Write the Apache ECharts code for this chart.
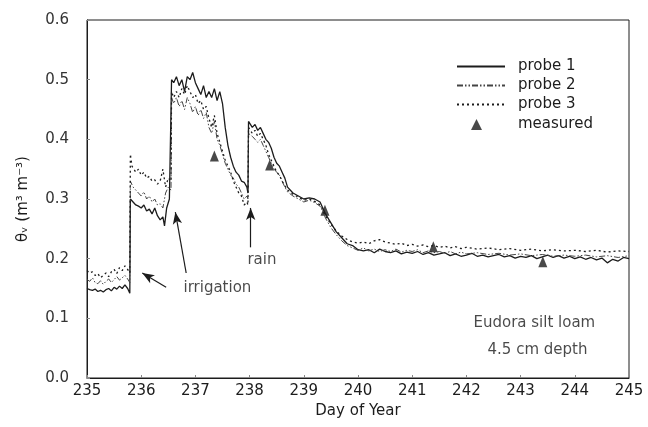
<!DOCTYPE html>
<html>
<head>
<meta charset="utf-8">
<script src="https://cdn.jsdelivr.net/npm/echarts@6/dist/echarts.min.js"></script>
<style>
  html, body { margin: 0; padding: 0; background: #fff; }
  #chart { width: 648px; height: 427px; }
</style>
</head>
<body>
<div id="chart"></div>
<script>
// [day, theta_v]
const probe1 = [
  [235.00,0.150],[235.05,0.148],[235.10,0.147],[235.15,0.149],[235.20,0.145],[235.25,0.147],
  [235.30,0.144],[235.35,0.148],[235.40,0.150],[235.45,0.146],[235.50,0.152],[235.55,0.149],
  [235.60,0.154],[235.65,0.150],[235.70,0.156],[235.75,0.150],[235.79,0.142],
  [235.80,0.300],[235.85,0.295],[235.90,0.290],[235.95,0.288],[236.00,0.285],[236.05,0.290],
  [236.10,0.280],[236.15,0.283],[236.20,0.275],[236.25,0.285],[236.30,0.272],[236.35,0.265],
  [236.40,0.270],[236.43,0.255],[236.47,0.285],[236.52,0.300],[236.55,0.298],
  [236.56,0.500],[236.60,0.495],[236.65,0.505],[236.70,0.490],[236.75,0.500],[236.80,0.480],
  [236.85,0.505],[236.90,0.500],[236.95,0.512],[237.00,0.495],[237.05,0.485],[237.10,0.475],
  [237.15,0.490],[237.20,0.470],[237.25,0.480],[237.30,0.470],[237.35,0.485],[237.40,0.465],
  [237.45,0.480],[237.50,0.460],[237.55,0.420],[237.60,0.390],[237.65,0.370],[237.70,0.355],
  [237.75,0.345],[237.80,0.340],[237.85,0.330],[237.90,0.328],[237.95,0.320],[237.97,0.310],
  [237.98,0.430],[238.05,0.420],[238.10,0.425],[238.15,0.415],[238.20,0.420],[238.25,0.410],
  [238.30,0.400],[238.35,0.395],[238.40,0.385],[238.45,0.370],[238.50,0.360],[238.55,0.355],
  [238.60,0.345],[238.65,0.335],[238.70,0.320],[238.80,0.310],[238.90,0.305],[239.00,0.300],
  [239.10,0.302],[239.20,0.300],[239.30,0.295],[239.35,0.285],[239.40,0.275],[239.50,0.260],
  [239.60,0.245],[239.70,0.235],[239.80,0.225],[239.90,0.222],[240.00,0.215],[240.10,0.213],
  [240.20,0.215],[240.30,0.210],[240.40,0.216],[240.50,0.212],[240.60,0.210],[240.70,0.213],
  [240.80,0.208],[240.90,0.211],[241.00,0.209],[241.10,0.212],[241.20,0.207],[241.30,0.210],
  [241.40,0.206],[241.50,0.208],[241.60,0.210],[241.70,0.205],[241.80,0.208],[241.90,0.204],
  [242.00,0.206],[242.10,0.209],[242.20,0.204],[242.30,0.206],[242.40,0.203],[242.50,0.205],
  [242.60,0.207],[242.70,0.203],[242.80,0.205],[242.90,0.201],[243.00,0.204],[243.10,0.202],
  [243.20,0.205],[243.30,0.200],[243.40,0.203],[243.50,0.206],[243.60,0.202],[243.70,0.205],
  [243.80,0.201],[243.90,0.204],[244.00,0.200],[244.10,0.203],[244.20,0.199],[244.30,0.202],
  [244.40,0.198],[244.50,0.201],[244.60,0.193],[244.70,0.199],[244.80,0.196],[244.90,0.202],
  [245.00,0.200]
];
const probe2 = [
  [235.00,0.165],[235.05,0.162],[235.10,0.168],[235.15,0.160],[235.20,0.158],[235.25,0.163],
  [235.30,0.157],[235.35,0.162],[235.40,0.166],[235.45,0.160],[235.50,0.165],[235.55,0.170],
  [235.60,0.164],[235.65,0.168],[235.70,0.172],[235.75,0.166],[235.79,0.160],
  [235.80,0.330],[235.85,0.320],[235.90,0.315],[235.95,0.310],[236.00,0.305],[236.05,0.312],
  [236.10,0.300],[236.15,0.305],[236.20,0.295],[236.25,0.300],[236.30,0.290],[236.35,0.292],
  [236.40,0.285],[236.45,0.310],[236.50,0.320],[236.55,0.315],
  [236.56,0.470],[236.60,0.460],[236.65,0.470],[236.70,0.455],[236.75,0.465],[236.80,0.450],
  [236.85,0.470],[236.90,0.460],[236.95,0.445],[237.00,0.455],[237.05,0.440],[237.10,0.450],
  [237.15,0.435],[237.20,0.445],[237.25,0.420],[237.30,0.410],[237.35,0.430],[237.40,0.400],
  [237.45,0.390],[237.50,0.375],[237.55,0.360],[237.60,0.350],[237.65,0.340],[237.70,0.335],
  [237.75,0.325],[237.80,0.320],[237.85,0.310],[237.90,0.300],[237.95,0.305],[237.97,0.300],
  [237.98,0.410],[238.05,0.405],[238.10,0.400],[238.15,0.395],[238.20,0.400],[238.25,0.390],
  [238.30,0.380],[238.35,0.370],[238.40,0.360],[238.45,0.350],[238.50,0.345],[238.55,0.340],
  [238.60,0.330],[238.65,0.320],[238.70,0.312],[238.80,0.305],[238.90,0.300],[239.00,0.295],
  [239.10,0.298],[239.20,0.294],[239.30,0.288],[239.35,0.280],[239.40,0.268],[239.50,0.252],
  [239.60,0.240],[239.70,0.230],[239.80,0.222],[239.90,0.218],[240.00,0.214],[240.10,0.218],
  [240.20,0.213],[240.30,0.216],[240.40,0.212],[240.50,0.215],[240.60,0.212],[240.70,0.216],
  [240.80,0.211],[240.90,0.214],[241.00,0.212],[241.10,0.215],[241.20,0.210],[241.30,0.213],
  [241.40,0.210],[241.50,0.212],[241.60,0.209],[241.70,0.212],[241.80,0.208],[241.90,0.211],
  [242.00,0.208],[242.20,0.210],[242.40,0.207],[242.60,0.209],[242.80,0.206],[243.00,0.208],
  [243.20,0.205],[243.40,0.207],[243.60,0.204],[243.80,0.206],[244.00,0.204],[244.20,0.206],
  [244.40,0.203],[244.60,0.205],[244.80,0.202],[245.00,0.205]
];
const probe3 = [
  [235.00,0.180],[235.05,0.176],[235.10,0.178],[235.15,0.172],[235.20,0.175],[235.25,0.168],
  [235.30,0.172],[235.35,0.176],[235.40,0.170],[235.45,0.178],[235.50,0.182],[235.55,0.175],
  [235.60,0.185],[235.65,0.180],[235.70,0.188],[235.75,0.182],[235.79,0.176],
  [235.80,0.375],[235.83,0.355],[235.90,0.345],[235.95,0.350],[236.00,0.340],[236.05,0.345],
  [236.10,0.335],[236.15,0.338],[236.20,0.330],[236.25,0.332],[236.30,0.325],[236.35,0.330],
  [236.40,0.350],[236.45,0.320],[236.50,0.335],[236.55,0.330],
  [236.56,0.480],[236.60,0.470],[236.65,0.480],[236.70,0.470],[236.75,0.485],[236.80,0.475],
  [236.85,0.490],[236.90,0.480],[236.95,0.470],[237.00,0.475],[237.05,0.460],[237.10,0.465],
  [237.15,0.450],[237.20,0.455],[237.25,0.435],[237.30,0.420],[237.35,0.440],[237.40,0.410],
  [237.45,0.395],[237.50,0.380],[237.55,0.365],[237.60,0.355],[237.65,0.345],[237.70,0.330],
  [237.75,0.320],[237.80,0.310],[237.85,0.305],[237.90,0.290],[237.95,0.295],[237.97,0.290],
  [237.98,0.420],[238.05,0.410],[238.10,0.415],[238.15,0.405],[238.20,0.410],[238.25,0.400],
  [238.30,0.390],[238.35,0.375],[238.40,0.365],[238.45,0.355],[238.50,0.345],[238.55,0.340],
  [238.60,0.330],[238.65,0.322],[238.70,0.315],[238.80,0.308],[238.90,0.303],[239.00,0.298],
  [239.10,0.300],[239.20,0.296],[239.30,0.290],[239.35,0.282],[239.40,0.272],[239.50,0.258],
  [239.60,0.246],[239.70,0.238],[239.80,0.232],[239.90,0.228],[240.00,0.226],[240.10,0.228],
  [240.20,0.225],[240.30,0.230],[240.40,0.232],[240.50,0.228],[240.60,0.226],[240.70,0.224],
  [240.80,0.226],[240.90,0.222],[241.00,0.224],[241.10,0.221],[241.20,0.223],[241.30,0.220],
  [241.40,0.222],[241.50,0.219],[241.60,0.221],[241.70,0.218],[241.80,0.220],[241.90,0.217],
  [242.00,0.219],[242.20,0.216],[242.40,0.218],[242.60,0.215],[242.80,0.217],[243.00,0.214],
  [243.20,0.216],[243.40,0.213],[243.60,0.215],[243.80,0.213],[244.00,0.214],[244.20,0.212],
  [244.40,0.214],[244.60,0.211],[244.80,0.213],[245.00,0.212]
];
const measuredDays = [237.35, 238.37, 239.39, 241.39, 243.41];
const measuredVals = [0.372, 0.357, 0.281, 0.220, 0.195];

// annotation anchors in data units
const arrows = [
  [[236.46, 0.152], [236.02, 0.176]],
  [[236.83, 0.176], [236.63, 0.278]],
  [[238.02, 0.219], [238.02, 0.285]]
];
const notes = [
  ['irrigation', 236.78, 0.150],
  ['rain', 237.96, 0.198],
  ['Eudora silt loam', 242.13, 0.092],
  ['4.5 cm depth', 242.39, 0.047]
];

const ink = '#1c1c1c';
const font = 'DejaVu Sans';
const legendText = { fontFamily: font, fontSize: 15, color: ink, padding: [0, 0, 0, 8] };
const noDot = { opacity: 0 };

const chart = echarts.init(document.getElementById('chart'));

chart.setOption({
  backgroundColor: '#fff',
  animation: false,
  grid: { left: 87, right: 19, top: 20, bottom: 49, show: true, borderColor: ink, borderWidth: 1 },
  legend: [
    {
      orient: 'vertical',
      left: 451, top: 54,
      itemWidth: 48, itemHeight: 14, itemGap: 4,
      textStyle: legendText,
      data: [
        { name: 'probe 1', itemStyle: noDot },
        { name: 'probe 2', itemStyle: noDot },
        { name: 'probe 3', itemStyle: noDot }
      ]
    },
    {
      orient: 'vertical',
      left: 466, top: 112,
      itemWidth: 11, itemHeight: 11,
      textStyle: Object.assign({}, legendText, { padding: [0, 0, 0, 31] }),
      data: [{ name: 'measured', icon: 'triangle' }]
    }
  ],
  xAxis: {
    type: 'value', min: 235, max: 245, interval: 1,
    name: 'Day of Year', nameLocation: 'middle', nameGap: 24,
    nameTextStyle: { fontFamily: font, fontSize: 15, color: ink },
    axisLine: { lineStyle: { color: ink } },
    axisTick: { show: true, inside: true, length: 3, lineStyle: { color: '#888' } },
    axisLabel: { fontFamily: font, fontSize: 15, color: ink, margin: 6 },
    splitLine: { show: false }
  },
  yAxis: {
    type: 'value', min: 0, max: 0.6, interval: 0.1,
    name: 'θᵥ (m³ m⁻³)', nameLocation: 'middle', nameGap: 56, nameRotate: 90,
    nameTextStyle: { fontFamily: font, fontSize: 15, color: ink },
    axisLine: { lineStyle: { color: ink } },
    axisTick: { show: true, inside: true, length: 3, lineStyle: { color: '#888' } },
    axisLabel: { fontFamily: font, fontSize: 15, color: '#333', margin: 18, formatter: v => v.toFixed(1) },
    splitLine: { show: false }
  },
  series: [
    { name: 'probe 1', type: 'line', data: probe1, showSymbol: false, symbol: 'none',
      lineStyle: { color: ink, width: 1.3 }, itemStyle: { color: ink } },
    { name: 'probe 2', type: 'line', data: probe2, showSymbol: false, symbol: 'none',
      lineStyle: { color: '#444', width: 1, type: [6, 2, 1.5, 2, 1.5, 2] }, itemStyle: { color: '#444' } },
    { name: 'probe 3', type: 'line', data: probe3, showSymbol: false, symbol: 'none',
      lineStyle: { color: ink, width: 1.3, type: [2, 3] }, itemStyle: { color: ink } },
    { name: 'measured', type: 'scatter', symbol: 'triangle', symbolSize: [9, 11],
      data: measuredDays.map((d, i) => [d, measuredVals[i]]),
      itemStyle: { color: ink }, z: 5 },
    { name: 'notes', type: 'scatter', symbolSize: 0, silent: true,
      data: notes.map(n => ({ value: [n[1], n[2]], label: { formatter: n[0] } })),
      label: { show: true, position: 'right', distance: 0, fontFamily: font, fontSize: 15, color: ink },
      markLine: {
        silent: true, symbol: ['none', 'arrow'], symbolSize: [7, 12],
        label: { show: false },
        lineStyle: { color: ink, width: 1.2, type: 'solid' },
        data: arrows.map(a => [{ coord: a[0] }, { coord: a[1] }])
      }
    }
  ]
});
</script>
</body>
</html>
